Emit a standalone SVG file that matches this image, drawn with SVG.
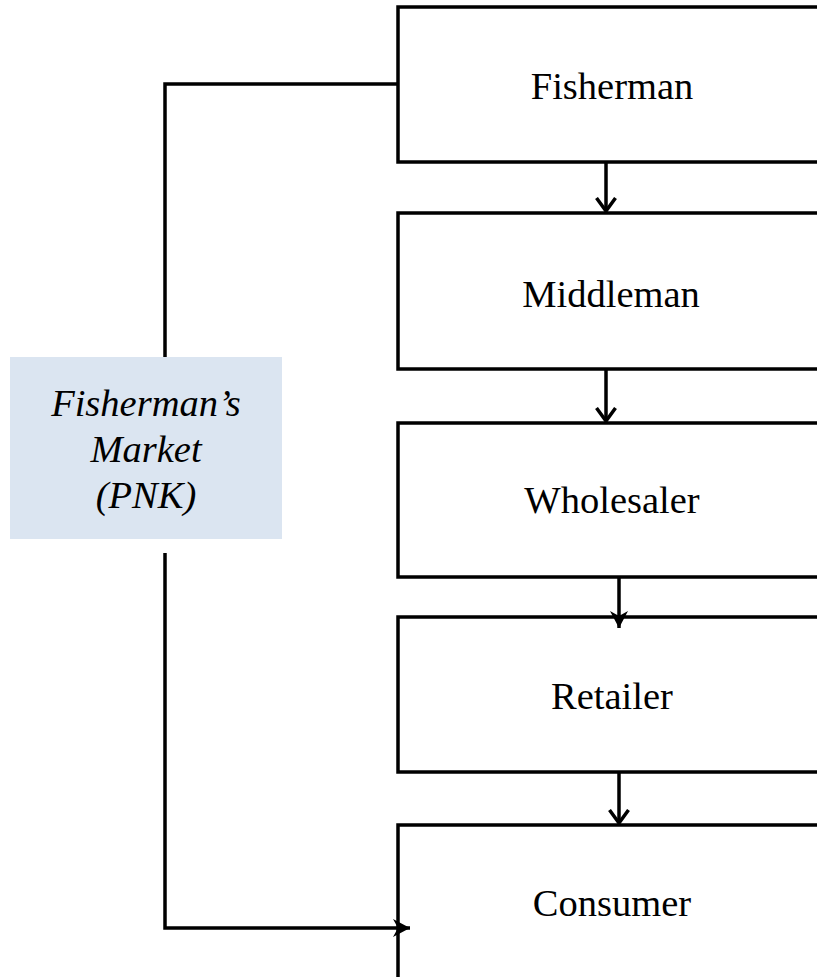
<svg xmlns="http://www.w3.org/2000/svg" width="817" height="977" viewBox="0 0 817 977">
<style>
.box{fill:#fff;stroke:#000;stroke-width:3.5}
.lbl{font-family:"Liberation Serif","Times New Roman",serif;font-size:38.5px;fill:#000;text-anchor:middle}
.it{font-style:italic}
.ln{fill:none;stroke:#000;stroke-width:3.5}
</style>
<defs>
<marker id="open" markerUnits="userSpaceOnUse" markerWidth="26" markerHeight="26" refX="14" refY="13" orient="auto" viewBox="0 0 26 26">
<path d="M1,3.5 L14,13 L1,22.5" fill="none" stroke="#000" stroke-width="3.5"/>
</marker>
<marker id="fill" markerUnits="userSpaceOnUse" markerWidth="26" markerHeight="26" refX="17" refY="13" orient="auto" viewBox="0 0 26 26">
<path d="M0,4 L17,13 L0,22 L5,13 Z" fill="#000"/>
</marker>
</defs>
<g id="fisherman"><rect class="box" x="398" y="7" width="440" height="155"/><text class="lbl" x="612" y="99">Fisherman</text></g>
<g id="middleman"><rect class="box" x="398" y="213" width="440" height="156"/><text class="lbl" x="611" y="307">Middleman</text></g>
<g id="wholesaler"><rect class="box" x="398" y="423" width="440" height="154"/><text class="lbl" x="612" y="513">Wholesaler</text></g>
<g id="retailer"><rect class="box" x="398" y="617" width="440" height="155"/><text class="lbl" x="612" y="709">Retailer</text></g>
<g id="consumer"><rect class="box" x="398" y="825" width="440" height="170"/><text class="lbl" x="612" y="916">Consumer</text></g>
<g id="market"><rect x="10" y="357" width="272" height="182" fill="#dbe5f1"/>
<text class="lbl it" x="146" y="416">Fisherman’s</text>
<text class="lbl it" x="146" y="462">Market</text>
<text class="lbl it" x="146" y="508">(PNK)</text></g>
<g id="connectors">
<line class="ln" x1="606" y1="162" x2="606" y2="211" marker-end="url(#open)"/>
<line class="ln" x1="606" y1="369" x2="606" y2="421" marker-end="url(#open)"/>
<line class="ln" x1="619" y1="577" x2="619" y2="628" marker-end="url(#fill)"/>
<line class="ln" x1="619" y1="772" x2="619" y2="823" marker-end="url(#open)"/>
<polyline class="ln" points="398,84 165,84 165,357"/>
<polyline class="ln" points="165,553 165,928 410,928" marker-end="url(#fill)"/>
</g>
</svg>
